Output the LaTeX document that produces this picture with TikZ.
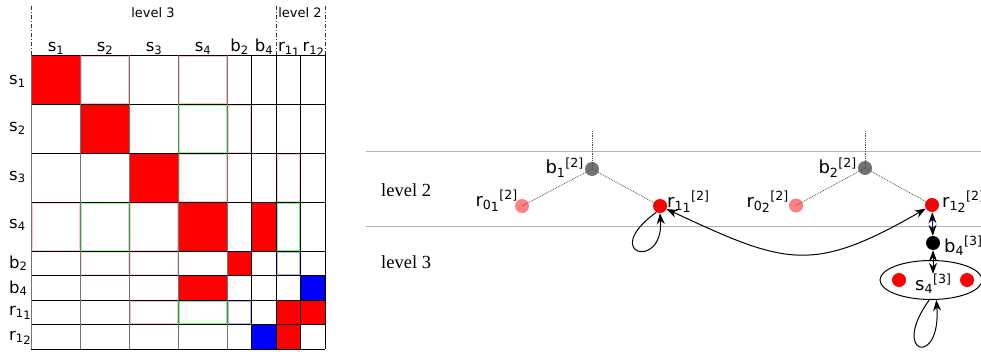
\documentclass[tikz,border=0pt]{standalone}
\usepackage{fontspec}
\setmainfont{DejaVu Sans}
\newfontfamily\seriffam{Liberation Serif}
\usetikzlibrary{arrows.meta,shapes.geometric}
\newcommand\dsub[2]{\textsubscript{#1\raisebox{-0.35ex}{#2}}}
\tikzset{
  mytip/.tip={Stealth[length=11pt,width=8pt,inset=3.5pt]},
  mlbl/.style={font=\fontsize{16.5}{18}\selectfont, inner sep=0pt},
  glbl/.style={font=\fontsize{18}{20}\selectfont, inner sep=0pt},
  lvl/.style={font=\fontsize{13}{15}\selectfont, inner sep=0pt},
  lvlr/.style={font=\seriffam\fontsize{18.5}{20}\selectfont, inner sep=0pt},
  gdot/.style={circle, inner sep=0pt, minimum size=14pt},
  dotl/.style={densely dotted, line width=0.8pt, black!70},
  conn/.style={line width=1pt, black},
  dashdotl/.style={line width=0.7pt, black!80, dash pattern=on 4pt off 2pt on 1pt off 2pt},
}
\begin{document}
\begin{tikzpicture}[x=1pt,y=1pt]
\useasboundingbox (0,0) rectangle (981,351);
% ---------------- matrix ----------------
\foreach \a/\b/\c/\d in {31/296/80/247, 80/247/129/198, 129/198/178/149, 178/149/227/100,
  251.5/149/276/100, 227/100/251.5/75.5, 178/75.5/227/51, 276/51/300.5/26.5,
  300.5/51/325/26.5, 276/26.5/300.5/2}
  \fill[red] (\a,\b) rectangle (\c,\d);
\foreach \a/\b/\c/\d in {300.5/75.5/325/51, 251.5/26.5/276/2}
  \fill[blue] (\a,\b) rectangle (\c,\d);
\foreach \col/\a/\b/\c/\d in {red!25/80/296/129/247, red!25/178/296/227/247,
  green!45/178/247/227/198, red!20/227/247/251.5/198, red!20/178/198/227/149,
  red!20/276/198/300.5/149, red!20/31/149/80/100, green!40/80/149/129/100,
  red!20/129/149/178/100, green!60/276/149/300.5/100, red!15/80/100/129/75.5,
  red!15/129/100/178/75.5, blue!30/276/100/300.5/75.5, red!25/129/51/178/26.5,
  green!60/178/51/227/26.5, blue!30/227/51/251.5/26.5}
  \draw[\col, line width=0.5pt] (\a+1,\b-1) rectangle (\c-1,\d+1);
\foreach \y in {296,247,198,149,100,75.5,51,26.5,2}
  \draw[black, line width=0.9pt] (31,\y) -- (325,\y);
\foreach \x in {31,80,129,178,227}
  \draw[black!55, line width=0.9pt] (\x,296) -- (\x,2);
\foreach \x in {251.5,276,300.5,325}
  \draw[black, line width=0.9pt] (\x,296) -- (\x,2);
\foreach \x in {31,276,325}
  \draw[dashdotl] (\x,345) -- (\x,296);
\node[lvl, anchor=base] (lv3m) at (153,333) {level 3};
\node[lvl, anchor=base] (lv2m) at (300,333) {level 2};
% column labels
\node[mlbl, anchor=base] (cs1) at (56,299) {s\textsubscript{1}};
\node[mlbl, anchor=base] (cs2) at (105,299) {s\textsubscript{2}};
\node[mlbl, anchor=base] (cs3) at (154,299) {s\textsubscript{3}};
\node[mlbl, anchor=base] (cs4) at (203,299) {s\textsubscript{4}};
\node[mlbl, anchor=base] (cb2) at (239.5,299) {b\textsubscript{2}};
\node[mlbl, anchor=base] (cb4) at (264,299) {b\textsubscript{4}};
\node[mlbl, anchor=base] (cr11) at (289,299) {r\dsub{1}{1}};
\node[mlbl, anchor=base] (cr12) at (313.5,299) {r\dsub{1}{2}};
% row labels
\node[mlbl, anchor=base west] (rs1) at (9,266) {s\textsubscript{1}};
\node[mlbl, anchor=base west] (rs2) at (9,219) {s\textsubscript{2}};
\node[mlbl, anchor=base west] (rs3) at (9,171) {s\textsubscript{3}};
\node[mlbl, anchor=base west] (rs4) at (9,123) {s\textsubscript{4}};
\node[mlbl, anchor=base west] (rb2) at (9,83) {b\textsubscript{2}};
\node[mlbl, anchor=base west] (rb4) at (9,58) {b\textsubscript{4}};
\node[mlbl, anchor=base west] (rr11) at (9,36) {r\dsub{1}{1}};
\node[mlbl, anchor=base west] (rr12) at (9,11) {r\dsub{1}{2}};
% ---------------- graph ----------------
\draw[black!30, line width=1pt] (366,199) -- (981,199);
\draw[black!30, line width=1pt] (366,124.5) -- (981,124.5);
\node[lvlr, anchor=base west] (lv2) at (381,155) {level 2};
\node[lvlr, anchor=base west] (lv3) at (381,83) {level 3};

\node[gdot, fill=black!55] (b1) at (592,182) {};
\node[gdot, fill=red!50] (r01) at (522,145) {};
\node[gdot, fill=red] (r11) at (660,145) {};
\node[gdot, fill=black!55] (b2) at (865,183) {};
\node[gdot, fill=red!50] (r02) at (796,145.5) {};
\node[gdot, fill=red] (r12) at (932,146) {};
\node[gdot, fill=black] (b4) at (933,108) {};
\node[ellipse, draw, line width=1pt, minimum width=102pt, minimum height=39pt, inner sep=0pt] (s4e) at (931,71) {};
\node[gdot, fill=red] (d1) at (899,71) {};
\node[gdot, fill=red] (d2) at (967,71) {};

\coordinate (b1t) at (592,220);
\coordinate (b2t) at (865,220);
\draw[dotl] (b1t) -- (b1.center);
\draw[dotl] (b1.center) -- (r01.center);
\draw[dotl] (b1.center) -- (r11.center);
\draw[dotl] (b2t) -- (b2.center);
\draw[dotl] (b2.center) -- (r02.center);
\draw[dotl] (b2.center) -- (r12.center);

\node[glbl, anchor=base east] (b1l) at ([shift={(-8,-5)}]b1.center) {b\textsubscript{1}\textsuperscript{[2]}};
\node[glbl, anchor=base east] (r01l) at ([shift={(-4,0)}]r01.center) {r\dsub{0}{1}\textsuperscript{[2]}};
\node[glbl, anchor=base west] (r11l) at ([shift={(7,-1)}]r11.center) {r\dsub{1}{1}\textsuperscript{[2]}};
\node[glbl, anchor=base east] (b2l) at ([shift={(-8,-6)}]b2.center) {b\textsubscript{2}\textsuperscript{[2]}};
\node[glbl, anchor=base east] (r02l) at ([shift={(-7,-1.5)}]r02.center) {r\dsub{0}{2}\textsuperscript{[2]}};
\node[glbl, anchor=base west] (r12l) at ([shift={(10,-2)}]r12.center) {r\dsub{1}{2}\textsuperscript{[2]}};
\node[glbl, anchor=base west] (b4l) at ([shift={(11,-9)}]b4.center) {b\textsubscript{4}\textsuperscript{[3]}};
\node[glbl, anchor=base west] (s4l) at (915,61) {s\textsubscript{4}\textsuperscript{[3]}};

\draw[conn, -mytip] (r11.-120) .. controls +(-58,-42) and +(4,-58) .. (r11.-90);
\draw[conn, mytip-mytip] (r11) to[out=-25, in=-150, looseness=1.3] (r12);
\draw[blue, line width=0.8pt, {Stealth[length=11pt,width=8pt,inset=3.5pt,black]}-{Stealth[length=11pt,width=8pt,inset=3.5pt,black]}] (r12) -- (b4);
\draw[conn, mytip-mytip] (b4) -- (b4 |- s4l.north);
\draw[conn, -mytip] (s4e.-95) .. controls +(-40,-55) and +(5,-68) .. (s4e.-75);
\end{tikzpicture}
\end{document}
